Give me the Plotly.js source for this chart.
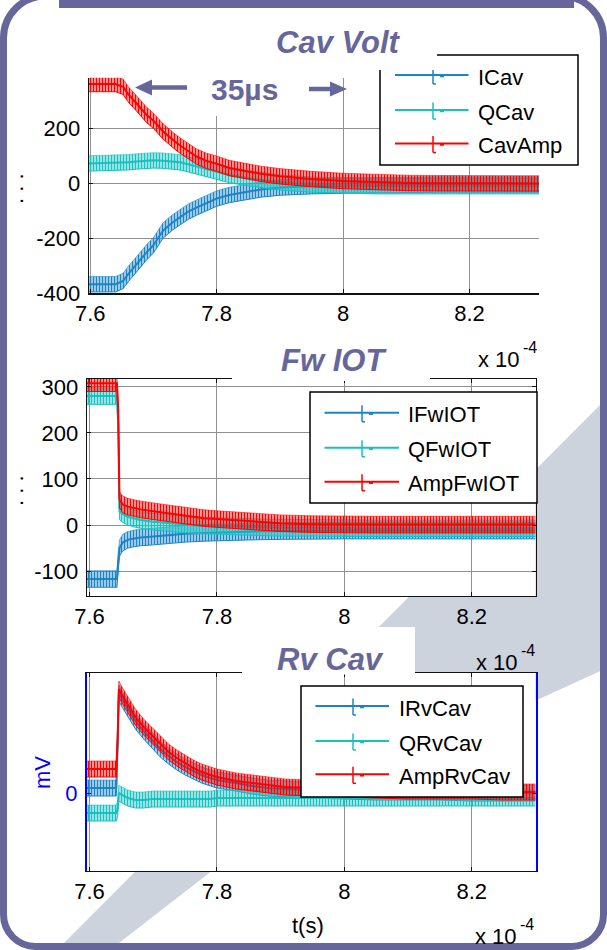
<!DOCTYPE html>
<html><head><meta charset="utf-8">
<script src="https://cdn.plot.ly/plotly-3.0.1.min.js"></script>
<style>html,body{margin:0;padding:0;background:#fff;overflow:hidden}#chart{width:607px;height:950px}</style>
</head><body><div id="chart"></div>
<script>
// ---- data (time in units of 1e-4 s) ----
const tCav   = [7.598, 7.62, 7.64, 7.652, 7.66, 7.673, 7.689, 7.70, 7.715, 7.73, 7.742, 7.755, 7.768, 7.784, 7.80, 7.82, 7.847, 7.87, 7.90, 7.95, 8.00, 8.05, 8.10, 8.15, 8.20, 8.25, 8.31];
const ICav   = [-367, -367, -367, -355, -330, -295, -251, -225, -172, -142, -122, -103, -88, -70, -55, -42, -30, -22, -15, -10, -8, -6, -5, -4, -4, -4, -4];
const QCav   = [73, 74, 75, 76, 77, 80, 83, 84, 83, 80, 77, 70, 62, 51, 41, 31, 20, 12, 4, -4, -8, -10, -10, -10, -10, -10, -10];
const CavAmp = [362, 362, 362, 352, 325, 292, 250, 228, 190, 160, 138, 118, 98, 82, 72, 56, 44, 35, 26, 16, 9, 5, 2, 1, 0, 0, 0];

const tFw      = [7.596, 7.61, 7.625, 7.643, 7.645, 7.647, 7.652, 7.66, 7.67, 7.68, 7.70, 7.72, 7.75, 7.78, 7.80, 7.83, 7.86, 7.90, 7.95, 8.00, 8.05, 8.10, 8.15, 8.20, 8.25, 8.30];
const IFwIOT   = [-117, -117, -117, -117, -80, -50, -38, -32, -29, -27, -25, -22, -19, -17, -16, -15, -14, -13, -12, -12, -12, -12, -12, -12, -12, -12];
const QFwIOT   = [280, 280, 280, 280, 218, 30, 24, 18, 14, 11, 7, 4, 1, -1, -2, -4, -5, -6, -6, -7, -7, -7, -7, -7, -7, -7];
const AmpFwIOT = [308, 308, 308, 308, 250, 55, 45, 40, 37, 34, 30, 26, 20, 15, 13, 10, 7, 4, 2, 1, 1, 1, 1, 1, 1, 1];

const tRv      = [7.596, 7.61, 7.625, 7.642, 7.644, 7.646, 7.651, 7.66, 7.672, 7.685, 7.698, 7.711, 7.724, 7.737, 7.75, 7.763, 7.776, 7.79, 7.80, 7.83, 7.855, 7.88, 7.907, 7.95, 8.00, 8.05, 8.10, 8.15, 8.20, 8.25, 8.30];
const IRvCav   = [5, 5, 5, 5, 46, 100, 94, 84, 72, 62, 53, 44, 37, 31, 26, 22, 18, 15, 13, 10, 7, 5, 4, 3, 2, 1, 1, 1, 0, 0, 0];
const QRvCav   = [-20, -20, -20, -20, -15, 0, -2, -5, -7, -7, -6, -6, -6, -6, -6, -6, -6, -6, -5, -5, -5, -5, -5, -5, -5, -5, -5, -5, -5, -5, -5];
const AmpRvCav = [24, 24, 24, 24, 54, 104, 98, 88, 76, 66, 58, 49, 41, 35, 30, 25, 21, 18, 16, 12, 10, 8, 6, 5, 4, 3, 2, 2, 2, 1, 1];

const xTickVals = [7.6, 7.8, 8.0, 8.2];
const xTickText = ['7.6', '7.8', '8', '8.2'];
const y1TickVals = [-400, -200, 0, 200];
const y1TickText = ['-400', '-200', '0', '200'];
const y2TickVals = [-100, 0, 100, 200, 300];
const y2TickText = ['-100', '0', '100', '200', '300'];
const y3TickVals = [0];
const y3TickText = ['0'];

// ---- styling ----
const W = 607, H = 950;
const FONT = 'Liberation Sans, Arial, sans-serif';
const PURPLE = '#66669b';
const SWOOSH = '#cdd3dd';
const BLUE = '#1c84c6', CYAN = '#18c0c0', RED = '#ff0000';
const px = x => x / W, py = y => 1 - y / H;
const P = (x, y) => px(x) + ',' + py(y);

function tint(hex, a) {
  const n = parseInt(hex.slice(1), 16);
  return `rgba(${(n >> 16) & 255},${(n >> 8) & 255},${n & 255},${a})`;
}
function band(t, y, w, color, xa, ya) {
  const lo = y.map(v => v - w), hi = y.map(v => v + w);
  const common = {x: t, type: 'scatter', mode: 'lines', xaxis: xa, yaxis: ya, hoverinfo: 'skip', showlegend: false};
  return [
    Object.assign({}, common, {y: lo, line: {color: color, width: 1}}),
    Object.assign({}, common, {y: hi, line: {color: tint(color, 0.7), width: 0.8}, fill: 'tonexty',
      fillcolor: tint(color, 0.3),
      fillpattern: {shape: '|', size: 3, solidity: 0.5, fgcolor: color, bgcolor: tint(color, 0.25)}}),
    Object.assign({}, common, {y: y, line: {color: color, width: 2}})
  ];
}

const data = [].concat(
  band(tCav, ICav, 28, BLUE, 'x', 'y'),
  band(tCav, QCav, 28, CYAN, 'x', 'y'),
  band(tCav, CavAmp, 28, RED, 'x', 'y'),
  band(tFw, IFwIOT, 18, BLUE, 'x2', 'y2'),
  band(tFw, QFwIOT, 18, CYAN, 'x2', 'y2'),
  band(tFw, AmpFwIOT, 18, RED, 'x2', 'y2'),
  band(tRv, IRvCav, 8, BLUE, 'x3', 'y3'),
  band(tRv, QRvCav, 8, CYAN, 'x3', 'y3'),
  band(tRv, AmpRvCav, 8, RED, 'x3', 'y3')
);

// panel pixel boxes
const P1 = {l: 89, r: 539, t: 77.7, b: 293.3};
const P2 = {l: 87, r: 535.5, t: 379, b: 596};
const P3 = {l: 87, r: 535.5, t: 673, b: 871};

function xax(box, range, anchor, mirror) {
  return {domain: [px(box.l), px(box.r)], range: range, anchor: anchor,
    tickvals: xTickVals, ticktext: xTickText, tickfont: {family: FONT, size: 22, color: '#000'},
    showgrid: true, gridcolor: '#909090', gridwidth: 1, zeroline: false,
    showline: true, linecolor: '#111', linewidth: 1.3, mirror: mirror,
    ticks: 'inside', ticklen: 4, tickcolor: '#111', ticklabelstandoff: 0, fixedrange: true};
}
function yax(box, range, anchor, vals, text, mirror, color, grid) {
  return {domain: [py(box.b), py(box.t)], range: range, anchor: anchor,
    tickvals: vals, ticktext: text, tickfont: {family: FONT, size: 22, color: color},
    showgrid: grid, gridcolor: '#909090', gridwidth: 1, zeroline: false,
    showline: true, linecolor: color === '#000' ? '#111' : color, linewidth: color === '#000' ? 1.3 : 2, mirror: mirror,
    ticks: 'inside', ticklen: 4, tickcolor: '#111', ticklabelstandoff: 3, fixedrange: true};
}

const shapes = [];
function rect(x0, y0, x1, y1, fill, layer, line) {
  shapes.push({type: 'rect', xref: 'paper', yref: 'paper', x0: px(x0), x1: px(x1), y0: py(y1), y1: py(y0),
    fillcolor: fill, layer: layer, line: line || {width: 0}});
}
function seg(x0, y0, x1, y1, color, width, layer) {
  shapes.push({type: 'line', xref: 'paper', yref: 'paper', x0: px(x0), x1: px(x1), y0: py(y0), y1: py(y1),
    line: {color: color, width: width}, layer: layer || 'above'});
}
function poly(pts, fill, layer) {
  shapes.push({type: 'path', xref: 'paper', yref: 'paper', layer: layer,
    path: 'M' + pts.map(p => P(p[0], p[1])).join(' L') + ' Z', fillcolor: fill, line: {width: 0}});
}

// background swoosh + white panels (below the plots)
poly([[57, 950], [110, 950], [213, 870], [400, 772], [537, 700], [607, 668], [607, 398]], SWOOSH, 'below');
[P1, P2, P3].forEach(b => rect(b.l, b.t, b.r, b.b, '#ffffff', 'below'));
rect(6, 627, 415, 673, '#ffffff', 'below');

// title boxes hiding axis frame parts
rect(232, 333, 430, 381, '#ffffff', 'above');
rect(242, 630, 415, 674.5, '#ffffff', 'above');
rect(196, 68, 293, 116, '#ffffff', 'above');

// legends
const annotations = [];
function legend(box, lx0, lx1, mx, tx, entries) {
  rect(box[0], box[1], box[2], box[3], '#ffffff', 'above', {color: '#000', width: 1.5});
  entries.forEach(e => {
    seg(lx0, e.y, lx1, e.y, e.color, 2);
    seg(mx, e.y - 7.5, mx, e.y + 9, e.color, 1.5);
    seg(mx, e.y + 9, mx + 3, e.y + 9, e.color, 1.5);
    seg(mx + 7, e.y + 1, mx + 11, e.y + 1, e.color, 2.5);
    annotations.push({xref: 'paper', yref: 'paper', x: px(tx), y: py(e.y + 2), xanchor: 'left', yanchor: 'middle',
      text: e.name, showarrow: false, font: {family: FONT, size: 22, color: '#000'}});
  });
}
legend([380, 55, 578, 165], 395, 468.5, 433, 476, [
  {name: 'ICav', color: BLUE, y: 75}, {name: 'QCav', color: CYAN, y: 110}, {name: 'CavAmp', color: RED, y: 143.5}]);
rect(230, 8, 437, 70, '#ffffff', 'above');
legend([310, 392, 537, 503], 324.5, 399, 362, 406, [
  {name: 'IFwIOT', color: BLUE, y: 412.7}, {name: 'QFwIOT', color: CYAN, y: 447.7}, {name: 'AmpFwIOT', color: RED, y: 481.7}]);
legend([301, 686, 523, 797], 315.5, 389, 353, 397, [
  {name: 'IRvCav', color: BLUE, y: 706}, {name: 'QRvCav', color: CYAN, y: 741}, {name: 'AmpRvCav', color: RED, y: 774.3}]);

// 35us arrows
seg(150, 87.5, 187, 87.5, PURPLE, 4.5);
poly([[135, 87.5], [152, 79.5], [152, 95.5]], PURPLE, 'above');
seg(309, 89, 332, 89, PURPLE, 4.5);
poly([[347, 89], [330, 81.5], [330, 96.5]], PURPLE, 'above');

// purple frame
shapes.push({type: 'path', xref: 'paper', yref: 'paper', layer: 'above', fillcolor: 'rgba(0,0,0,0)',
  line: {color: PURPLE, width: 7},
  path: 'M' + P(45.5, -4) + ' L' + P(561.5, -4) + ' C' + P(584.7, -4) + ' ' + P(603.5, 14.8) + ' ' + P(603.5, 38) +
    ' L' + P(603.5, 914.5) + ' C' + P(603.5, 932.2) + ' ' + P(589.2, 946.5) + ' ' + P(571.5, 946.5) +
    ' L' + P(35.5, 946.5) + ' C' + P(17.8, 946.5) + ' ' + P(3.5, 932.2) + ' ' + P(3.5, 914.5) +
    ' L' + P(3.5, 38) + ' C' + P(3.5, 14.8) + ' ' + P(22.3, -4) + ' ' + P(45.5, -4) + ' Z'});
rect(59, 0, 574, 8, PURPLE, 'above');

// texts
function txt(x, y, text, size, color, opts) {
  annotations.push(Object.assign({xref: 'paper', yref: 'paper', x: px(x), y: py(y), xanchor: 'center', yanchor: 'middle',
    text: text, showarrow: false, font: {family: FONT, size: size, color: color}}, opts || {}));
}
txt(338, 42, '<b><i>Cav Volt</i></b>', 31, PURPLE);
txt(334, 360, '<b><i>Fw IOT</i></b>', 31, PURPLE);
txt(330, 659, '<b><i>Rv Cav</i></b>', 31, PURPLE);
txt(244, 89, '<b>35µs</b>', 30, PURPLE);
function expo(x, y) {
  txt(x, y, 'x 10', 22, '#000', {xanchor: 'left'});
  txt(x + 45, y - 12, '-4', 16, '#000', {xanchor: 'left'});
}
expo(476, 359);
expo(474, 662);
expo(473, 936);
txt(308, 925, 't(s)', 22, '#000');
txt(42, 773, 'mV', 22, '#0000ff', {textangle: -90});
txt(15, 189, '. . .', 22, '#000', {textangle: -90});
txt(15, 491, '. . .', 22, '#000', {textangle: -90});

const layout = {
  width: W, height: H, margin: {l: 0, r: 0, t: 0, b: 0},
  paper_bgcolor: '#ffffff', plot_bgcolor: 'rgba(0,0,0,0)', showlegend: false,
  font: {family: FONT, size: 22, color: '#000'},
  xaxis: xax(P1, [7.598, 8.31], 'y', false),
  yaxis: yax(P1, [-400, 385], 'x', y1TickVals, y1TickText, false, '#000', true),
  xaxis2: xax(P2, [7.596, 8.30], 'y2', 'ticks'),
  yaxis2: yax(P2, [-154, 317], 'x2', y2TickVals, y2TickText, 'ticks', '#000', true),
  xaxis3: xax(P3, [7.596, 8.30], 'y3', 'ticks'),
  yaxis3: yax(P3, [-78, 120], 'x3', y3TickVals, y3TickText, 'ticks', '#0000ff', false),
  shapes: shapes, annotations: annotations
};
Plotly.newPlot('chart', data, layout, {displayModeBar: false, staticPlot: true});
</script></body></html>
